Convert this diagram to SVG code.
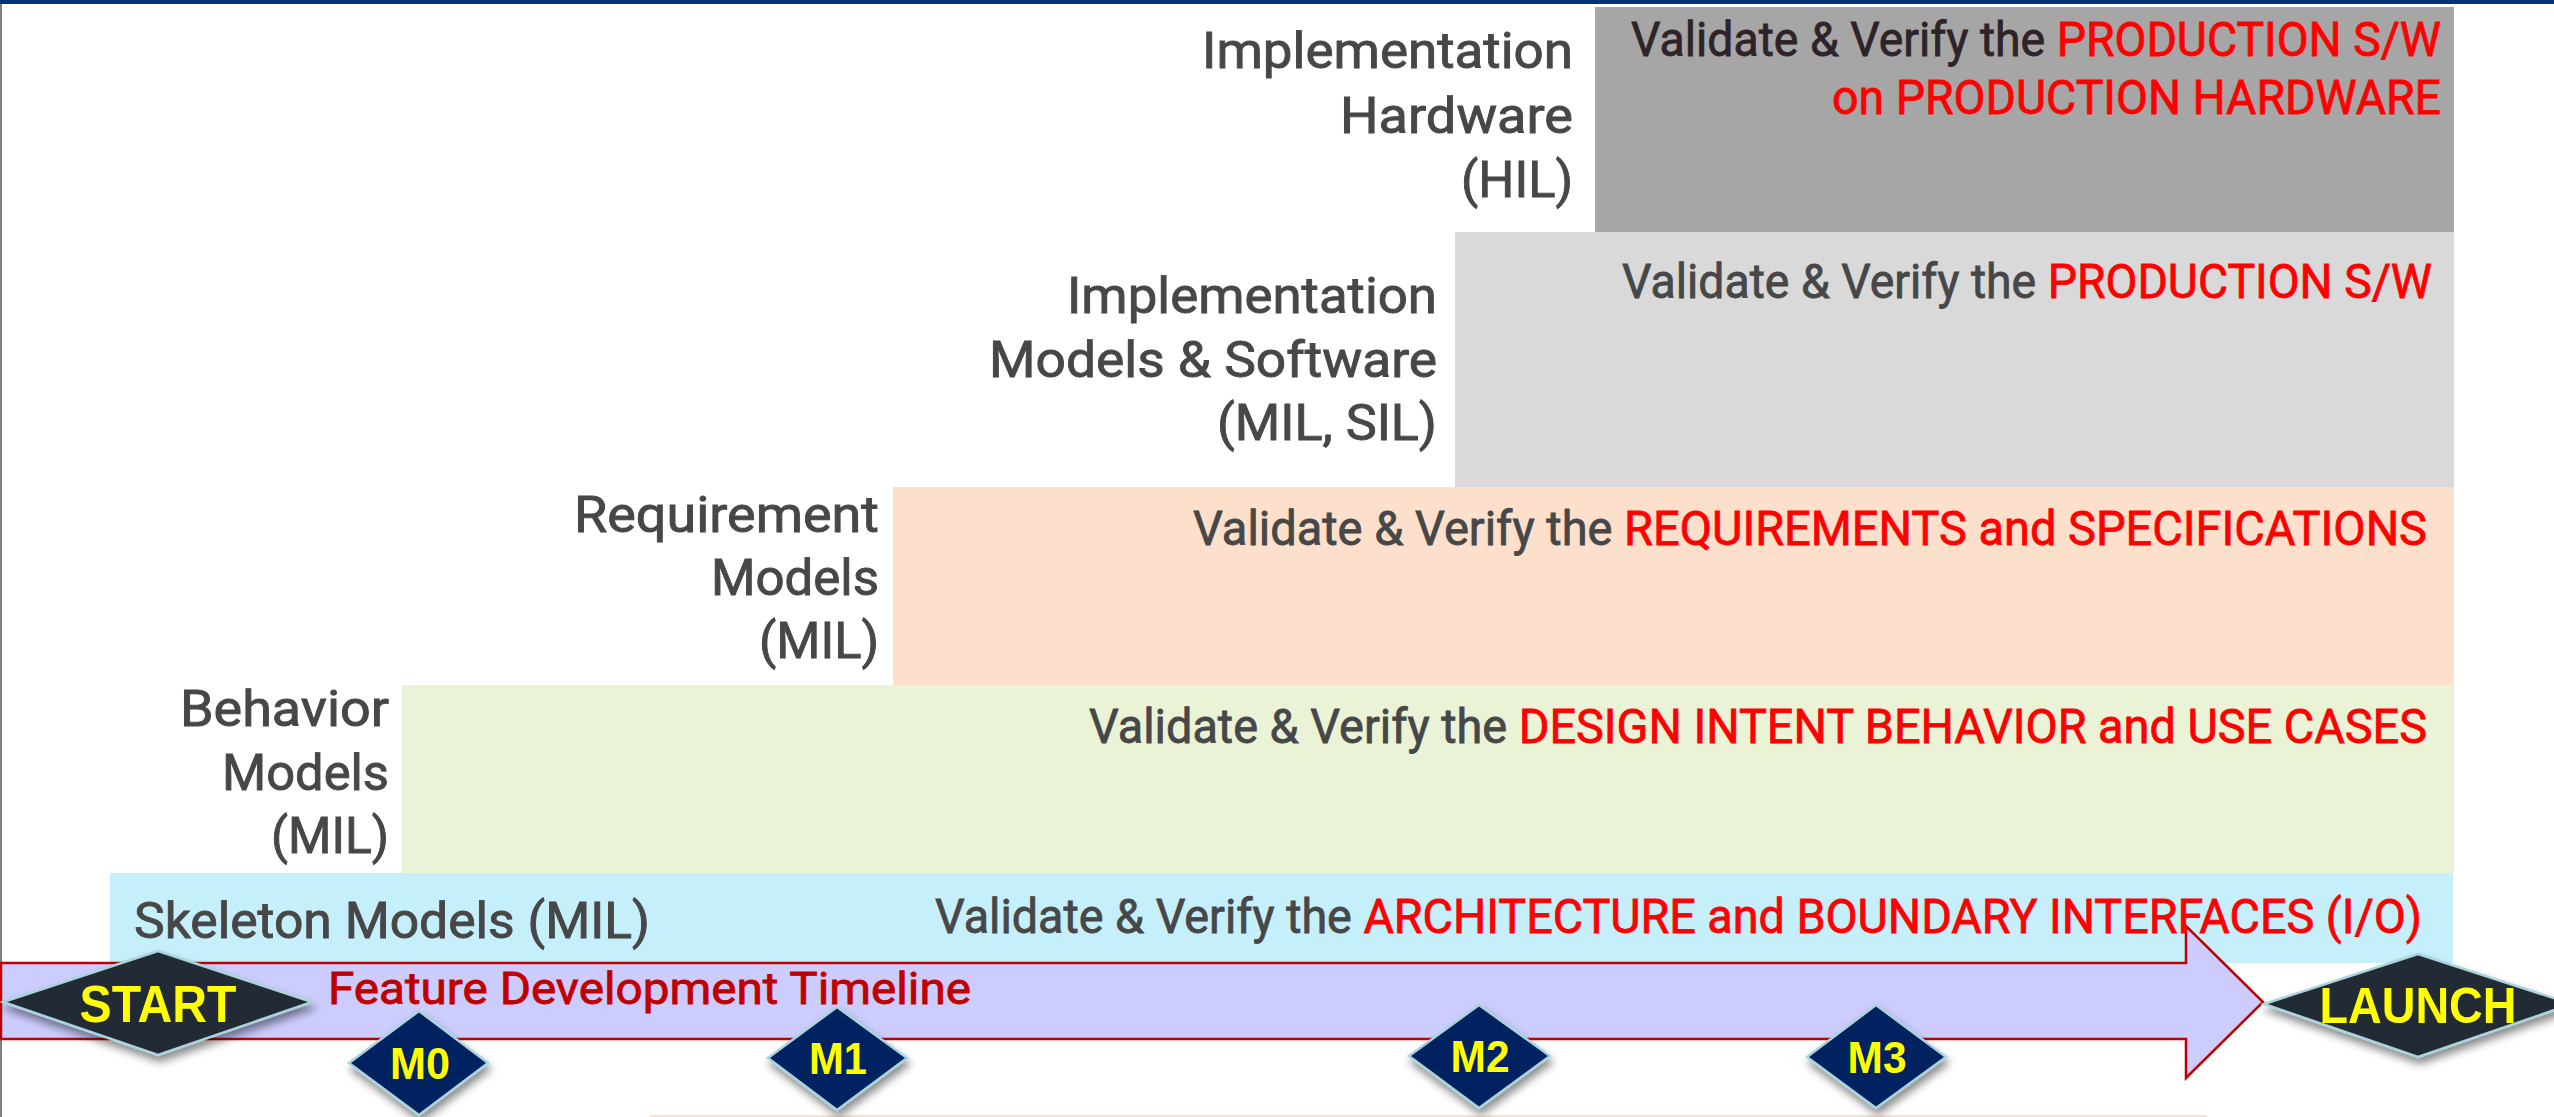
<svg xmlns="http://www.w3.org/2000/svg" width="2554" height="1117" viewBox="0 0 2554 1117">
<defs>
<style>
.lbl{font-family:Roboto,"Liberation Sans",sans-serif;font-size:50px;font-weight:400;fill:#474747;stroke:#474747;stroke-width:0.9;text-anchor:end}
.val{font-family:Roboto,"Liberation Sans",sans-serif;font-size:48px;font-weight:400;fill:#474747;stroke:#474747;stroke-width:0.8}
.red{fill:#FF0000;stroke:#FF0000}
.dia{stroke:#A9D4DC;stroke-width:2.5;filter:url(#sh)}
.dk{fill:#232B35}
.nv{fill:#002060}
.ms{font-family:"Liberation Sans",Arial,sans-serif;font-weight:bold;fill:#FFFF00;text-anchor:middle}
</style>
<filter id="sh" x="-20%" y="-30%" width="140%" height="170%">
<feDropShadow dx="2" dy="6" stdDeviation="4" flood-color="#000" flood-opacity="0.45"/>
</filter>
</defs>
<rect x="0" y="0" width="2554" height="1117" fill="#FFFFFF"/>
<rect x="0" y="0" width="2554" height="4" fill="#003478"/>
<rect x="0" y="4" width="2" height="1113" fill="#7F7F7F"/>

<g id="stage-hil">
<rect x="1595" y="7" width="859" height="225" fill="#A6A6A6"/>
<text class="lbl" x="1573" y="68" textLength="371" lengthAdjust="spacingAndGlyphs">Implementation</text>
<text class="lbl" x="1573" y="133" textLength="233" lengthAdjust="spacingAndGlyphs">Hardware</text>
<text class="lbl" x="1573" y="197" textLength="112" lengthAdjust="spacingAndGlyphs">(HIL)</text>
<text class="val" x="1631" y="56" textLength="810" lengthAdjust="spacingAndGlyphs" style="fill:#2F2329;stroke:#2F2329">Validate &amp; Verify the <tspan class="red">PRODUCTION S/W</tspan></text>
<text class="val red" x="1832" y="114" textLength="609" lengthAdjust="spacingAndGlyphs">on PRODUCTION HARDWARE</text>
</g>

<g id="stage-sil">
<rect x="1455" y="232" width="999" height="255" fill="#D9D9D9"/>
<text class="lbl" x="1437" y="313" textLength="370" lengthAdjust="spacingAndGlyphs">Implementation</text>
<text class="lbl" x="1437" y="377" textLength="448" lengthAdjust="spacingAndGlyphs">Models &amp; Software</text>
<text class="lbl" x="1437" y="440" textLength="220" lengthAdjust="spacingAndGlyphs">(MIL, SIL)</text>
<text class="val" x="1622" y="298" textLength="810" lengthAdjust="spacingAndGlyphs">Validate &amp; Verify the <tspan class="red">PRODUCTION S/W</tspan></text>
</g>

<g id="stage-requirement">
<rect x="893" y="487" width="1561" height="198" fill="#FDE0CC"/>
<text class="lbl" x="879" y="532" textLength="305" lengthAdjust="spacingAndGlyphs">Requirement</text>
<text class="lbl" x="879" y="595" textLength="168" lengthAdjust="spacingAndGlyphs">Models</text>
<text class="lbl" x="879" y="658" textLength="120" lengthAdjust="spacingAndGlyphs">(MIL)</text>
<text class="val" x="1193" y="545" textLength="1234" lengthAdjust="spacingAndGlyphs">Validate &amp; Verify the <tspan class="red">REQUIREMENTS and SPECIFICATIONS</tspan></text>
</g>

<g id="stage-behavior">
<rect x="402" y="685" width="2052" height="188" fill="#EBF3D7"/>
<text class="lbl" x="389" y="726" textLength="209" lengthAdjust="spacingAndGlyphs">Behavior</text>
<text class="lbl" x="389" y="790" textLength="167" lengthAdjust="spacingAndGlyphs">Models</text>
<text class="lbl" x="389" y="853" textLength="118" lengthAdjust="spacingAndGlyphs">(MIL)</text>
<text class="val" x="1089" y="743" textLength="1338" lengthAdjust="spacingAndGlyphs">Validate &amp; Verify the <tspan class="red">DESIGN INTENT BEHAVIOR and USE CASES</tspan></text>
</g>

<g id="stage-skeleton">
<rect x="110" y="873" width="2343" height="90" fill="#C6EFFC"/>
</g>

<g id="timeline-arrow">
<path d="M1,963 H2186 V926 L2263,1002 L2186,1078 V1039 H1 Z" fill="#CCCCFF" stroke="#C00000" stroke-width="2.5" stroke-linejoin="miter"/>
<text x="328" y="1004" textLength="643" lengthAdjust="spacingAndGlyphs" style="font-family:Roboto,'Liberation Sans',sans-serif;font-size:44px;fill:#C00000;stroke:#C00000;stroke-width:0.8">Feature Development Timeline</text>
</g>

<g id="stage-skeleton-text">
<text x="134" y="938" textLength="516" lengthAdjust="spacingAndGlyphs" style="font-family:Roboto,'Liberation Sans',sans-serif;font-size:50px;fill:#474747;stroke:#474747;stroke-width:0.9">Skeleton Models (MIL)</text>
<text class="val" x="935" y="933" textLength="1487" lengthAdjust="spacingAndGlyphs">Validate &amp; Verify the <tspan class="red">ARCHITECTURE and BOUNDARY INTERFACES (I/O)</tspan></text>
</g>

<rect x="650" y="1115" width="1557" height="2" fill="#FDE0CC"/>

<g id="start">
<polygon class="dia dk" points="3,1002 158,951 312,1002 158,1055"/>
<text class="ms" x="158" y="1022" font-size="52" textLength="157" lengthAdjust="spacingAndGlyphs">START</text>
</g>
<g id="m0">
<polygon class="dia nv" points="349,1063 419,1011 488,1063 419,1115"/>
<text class="ms" x="420" y="1079" font-size="45" textLength="60" lengthAdjust="spacingAndGlyphs">M0</text>
</g>
<g id="m1">
<polygon class="dia nv" points="768,1058 837,1007 907,1058 837,1110"/>
<text class="ms" x="838" y="1074" font-size="45" textLength="58" lengthAdjust="spacingAndGlyphs">M1</text>
</g>
<g id="m2">
<polygon class="dia nv" points="1409,1056 1479,1005 1550,1056 1479,1108"/>
<text class="ms" x="1480" y="1072" font-size="45" textLength="59" lengthAdjust="spacingAndGlyphs">M2</text>
</g>
<g id="m3">
<polygon class="dia nv" points="1807,1057 1876,1005 1946,1057 1876,1108"/>
<text class="ms" x="1877" y="1073" font-size="45" textLength="59" lengthAdjust="spacingAndGlyphs">M3</text>
</g>
<g id="launch">
<polygon class="dia dk" points="2264,1004 2418,954 2572,1004 2418,1057"/>
<text class="ms" x="2418" y="1023" font-size="50" textLength="197" lengthAdjust="spacingAndGlyphs">LAUNCH</text>
</g>
</svg>
